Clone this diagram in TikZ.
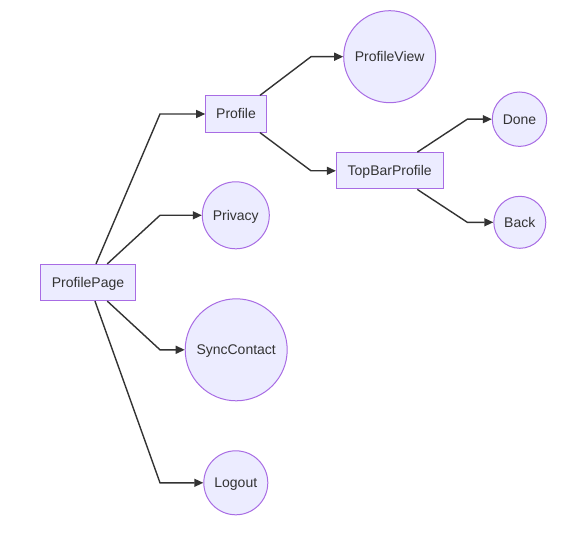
\documentclass[tikz,border=0pt]{standalone}
\usepackage{fontspec}
\setmainfont{Liberation Sans}
\usetikzlibrary{arrows.meta}
\definecolor{nodefill}{HTML}{ECECFF}
\definecolor{nodeborder}{HTML}{A86CE4}
\definecolor{edgecol}{HTML}{333333}
\begin{document}
\begin{tikzpicture}[x=1pt,y=-1pt,
  lbl/.style={text=edgecol,font=\fontsize{14pt}{16pt}\selectfont,text height=13pt,text depth=3pt},
  box/.style={lbl,draw=nodeborder,fill=nodefill,line width=1pt,rectangle,minimum height=36.3pt,inner xsep=0pt},
  roundnode/.style={lbl,draw=nodeborder,fill=nodefill,line width=1pt,circle,inner sep=0pt},
  link/.style={draw=edgecol,line width=1.4pt,-{Triangle[length=9pt,width=8pt]}}]
\useasboundingbox (0,0) rectangle (580,537);
% nodes
\node[box,minimum width=94.6pt] (pp) at (88,282.5) {ProfilePage};
\node[box,minimum width=60.6pt] (profile) at (236,114) {Profile};
\node[box,minimum width=106.7pt] (tb) at (389.7,170.8) {TopBarProfile};
\node[roundnode,minimum size=92pt] (pv) at (389.7,56.7) {ProfileView};
\node[roundnode,minimum size=54.4pt] (done) at (519.5,119.2) {Done};
\node[roundnode,minimum size=52pt] (back) at (519.8,222.3) {Back};
\node[roundnode,minimum size=67pt] (privacy) at (235.8,215.3) {Privacy};
\node[roundnode,minimum size=102pt] (sync) at (236.2,349.8) {SyncContact};
\node[roundnode,minimum size=64pt] (logout) at (235.8,482.8) {Logout};
% bend columns
\coordinate (c1) at (160,0);
\coordinate (c2) at (311,0);
\coordinate (c3) at (467.3,0);
% edges
\draw[link] ([xshift=8pt]pp.north) -- (profile.west -| c1) -- (profile.west);
\draw[link] ([xshift=19.3pt]pp.north) -- (privacy.west -| c1) -- (privacy.west);
\draw[link] ([xshift=19.3pt]pp.south) -- (sync.west -| c1) -- (sync.west);
\draw[link] ([xshift=7pt]pp.south) -- (logout.west -| c1) -- (logout.west);
\draw[link] ([xshift=24pt]profile.north) -- (pv.west -| c2) -- (pv.west);
\draw[link] ([xshift=24pt]profile.south) -- (tb.west -| c2) -- (tb.west);
\draw[link] ([xshift=27.6pt]tb.north) -- (done.west -| c3) -- (done.west);
\draw[link] ([xshift=27.6pt]tb.south) -- (back.west -| c3) -- (back.west);
\end{tikzpicture}
\end{document}
